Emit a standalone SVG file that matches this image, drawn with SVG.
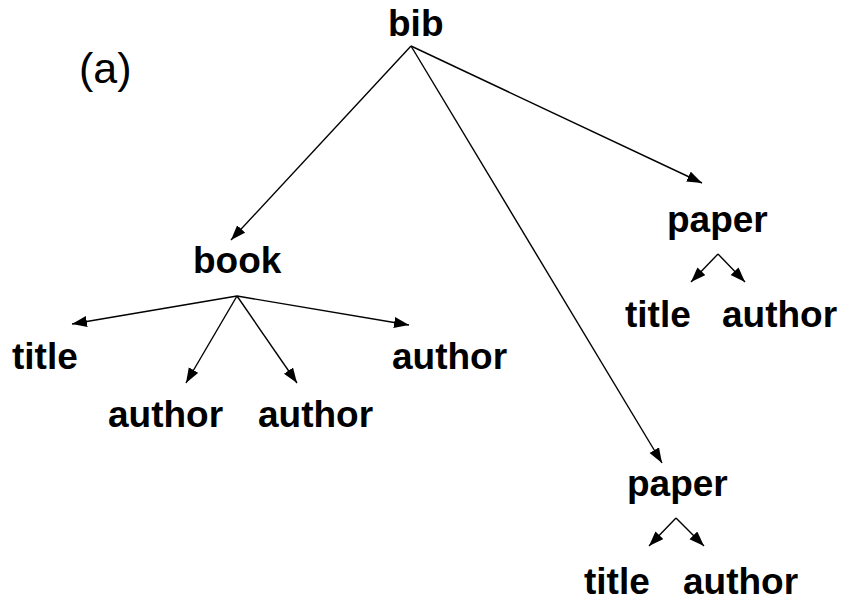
<svg xmlns="http://www.w3.org/2000/svg" width="848" height="602" viewBox="0 0 848 602">
<style>
.n{font-family:"Liberation Sans",Arial,sans-serif;font-weight:bold;font-size:37px;fill:#000}
.lbl{font-family:"Liberation Sans",Arial,sans-serif;font-size:43px;fill:#000}
.e{stroke:#000;stroke-width:1.4;fill:none;marker-end:url(#ah)}
</style>
<defs>
<marker id="ah" markerUnits="userSpaceOnUse" markerWidth="16" markerHeight="12" refX="15" refY="5.5" orient="auto">
<path d="M0,0 L15,5.5 L0,11 z" fill="#000"/>
</marker>
</defs>
<rect width="848" height="602" fill="#fff"/>
<text class="lbl" x="79" y="83">(a)</text>
<g id="connectors">
<line class="e" x1="411" y1="46" x2="231" y2="240"/>
<line class="e" x1="411" y1="46" x2="702" y2="183"/>
<line class="e" x1="411" y1="46" x2="662" y2="463"/>
<line class="e" x1="237" y1="296" x2="72" y2="324"/>
<line class="e" x1="237" y1="296" x2="186" y2="383"/>
<line class="e" x1="237" y1="296" x2="297" y2="383"/>
<line class="e" x1="237" y1="296" x2="409" y2="325"/>
<line class="e" x1="718" y1="254" x2="691" y2="282"/>
<line class="e" x1="718" y1="254" x2="745" y2="282"/>
<line class="e" x1="676" y1="518" x2="649" y2="546"/>
<line class="e" x1="676" y1="518" x2="704" y2="546"/>
</g>
<g id="bib"><text class="n" x="388" y="36">bib</text></g>
<g id="book"><text class="n" x="193" y="273">book</text></g>
<g id="book-title"><text class="n" x="12" y="369">title</text></g>
<g id="book-author1"><text class="n" x="108" y="427">author</text></g>
<g id="book-author2"><text class="n" x="258" y="427">author</text></g>
<g id="book-author3"><text class="n" x="392" y="369">author</text></g>
<g id="paper1"><text class="n" x="667" y="232">paper</text></g>
<g id="paper1-title"><text class="n" x="625" y="327">title</text></g>
<g id="paper1-author"><text class="n" x="722" y="327">author</text></g>
<g id="paper2"><text class="n" x="627" y="496">paper</text></g>
<g id="paper2-title"><text class="n" x="584" y="594">title</text></g>
<g id="paper2-author"><text class="n" x="683" y="594">author</text></g>
</svg>
